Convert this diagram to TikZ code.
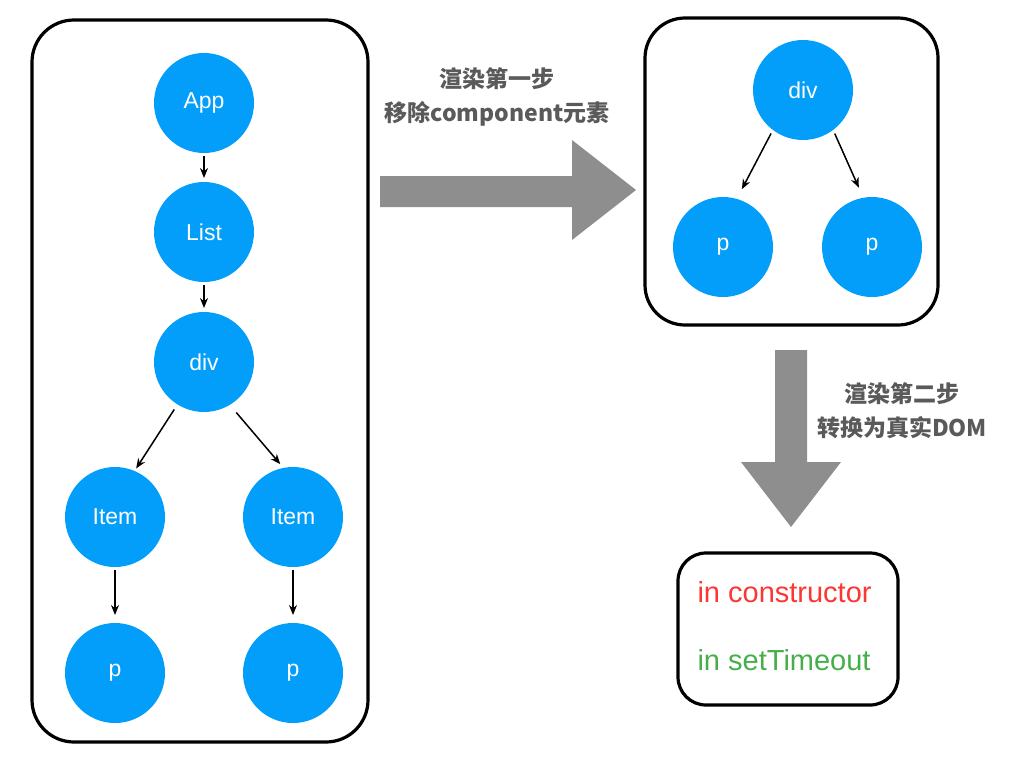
\documentclass[tikz,border=0pt]{standalone}
\usepackage{fontspec}
\setmainfont{Liberation Sans}
\newfontfamily\cjk{Noto Sans CJK SC}
\usetikzlibrary{arrows.meta}
\definecolor{nodeblue}{RGB}{3,158,250}
\definecolor{biggray}{RGB}{142,142,142}
\definecolor{txtgray}{RGB}{90,90,90}
\definecolor{cred}{RGB}{250,55,50}
\definecolor{cgreen}{RGB}{70,175,75}
\tikzset{
  x=1pt, y=-1pt,
  vnode/.style={circle, fill=nodeblue, minimum size=100pt, inner sep=0pt, outer sep=0pt, text=white, font=\fontsize{23}{27}\selectfont},
  conn/.style={-{Stealth[length=10pt,width=8pt]}, line width=1.5pt, black},
  sketchbox/.style={draw=black, line width=3.2pt},
  bigarrow/.style={fill=biggray, draw=none},
  steptext/.style={text=txtgray, font=\cjk\bfseries\fontsize{23}{34}\selectfont, align=center},
  logtext/.style={anchor=west, font=\fontsize{29}{34}\selectfont},
}
\begin{document}
\begin{tikzpicture}
\useasboundingbox (0,0) rectangle (1024,768);
% left box
\draw[sketchbox, rounded corners=42pt] (32,20) rectangle (368,742);
\node[vnode] (app) at (204,103) {App};
\node[vnode] (list) at (204,232) {List};
\node[vnode] (div) at (204,362) {div};
\node[vnode] (item1) at (115,517) {Item};
\node[vnode] (item2) at (293,517) {Item};
\node[vnode] (p1) at (115,673) {p};
\node[vnode] (p2) at (293,673) {p};
\draw[conn, shorten <=3pt, shorten >=4pt] (app) -- (list);
\draw[conn, shorten <=3pt, shorten >=4pt] (list) -- (div);
\draw[conn, shorten <=6pt, shorten >=3pt] (div.-122) -- (item1.67);
\draw[conn, shorten <=10pt, shorten >=5pt] (div.-59) -- (item2.101);
\draw[conn, shorten <=3pt, shorten >=8pt] (item1) -- (p1);
\draw[conn, shorten <=3pt, shorten >=8pt] (item2) -- (p2);
% right box
\draw[sketchbox, rounded corners=40pt] (645,18) rectangle (938,325);
\node[vnode] (rdiv) at (803,90) {div};
\node[vnode] (rp1) at (723,247) {p};
\node[vnode] (rp2) at (872,247) {p};
\draw[conn, shorten <=4pt, shorten >=11pt] (rdiv.-127) -- (rp1.74);
\draw[conn, shorten <=4pt, shorten >=11pt] (rdiv.-53) -- (rp2.100);
% big right arrow
\fill[bigarrow] (380,176) -- (572,176) -- (572,140) -- (636,190) -- (572,240) -- (572,207) -- (380,207) -- cycle;
\node[steptext] (t1) at (497,97) {渲染第一步\\移除component元素};
% big down arrow
\fill[bigarrow] (775,350) -- (807,350) -- (807,462) -- (841,462) -- (791,527) -- (741,462) -- (775,462) -- cycle;
\node[steptext] (t2) at (902,411) {渲染第二步\\转换为真实DOM};
% bottom box
\draw[sketchbox, rounded corners=28pt] (678,553) rectangle (898,705);
\node[logtext, text=cred] (c1) at (694,592) {in constructor};
\node[logtext, text=cgreen] (c2) at (694,660) {in setTimeout};
\end{tikzpicture}
\end{document}
